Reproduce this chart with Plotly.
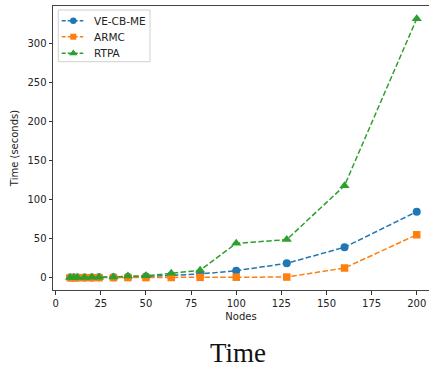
import plotly.graph_objects as go

nodes = [8, 10, 12, 16, 20, 24, 32, 40, 50, 64, 80, 100, 128, 160, 200]
ve_cb_me = [0.1, 0.1, 0.2, 0.2, 0.3, 0.4, 0.6, 0.9, 1.5, 2.8, 4.7, 9, 18.4, 39, 84.6]
armc = [0.0, 0.0, 0.0, 0.0, 0.0, 0.0, 0.0, 0.1, 0.1, 0.2, 0.4, 0.6, 0.8, 12.4, 55]
rtpa = [0.2, 0.2, 0.3, 0.3, 0.4, 0.5, 0.8, 2.0, 2.5, 5.6, 9.5, 44, 48.8, 118, 332]

series = [("VE-CB-ME", ve_cb_me, "#1f77b4", "circle", 8),
          ("ARMC", armc, "#ff7f0e", "square", 7.5),
          ("RTPA", rtpa, "#2ca02c", "triangle-up", 9)]

DASH = "5.5px,2.4px"
fig = go.Figure()
for name, vals, col, sym, sz in series:
    fig.add_trace(go.Scatter(
        x=nodes, y=vals, name=name, mode="lines+markers", showlegend=False,
        line=dict(color=col, width=1.5, dash=DASH),
        marker=dict(color=col, symbol=sym, size=sz, line=dict(width=0)),
    ))

# Manual legend on an overlay axis measured in pixels of the plot area
PL, PR, PT, PB = 53, 429, 6, 290
row_y = [20.7, 36.7, 53.3]
for (name, vals, col, sym, sz), ry in zip(series, row_y):
    fig.add_trace(go.Scatter(
        x=[61.7, 73.3, 83.3], y=[ry, ry, ry], xaxis="x2", yaxis="y2",
        mode="lines", showlegend=False, hoverinfo="skip",
        line=dict(color=col, width=1.5, dash="4px,2px"),
    ))
    fig.add_trace(go.Scatter(
        x=[73.3], y=[ry], xaxis="x2", yaxis="y2", mode="markers",
        showlegend=False, hoverinfo="skip",
        marker=dict(color=col, symbol=sym, size=sz - 1.5, line=dict(width=0)),
    ))
    fig.add_annotation(text=name, xref="x2", yref="y2", x=91.7, y=ry,
                       xanchor="left", yanchor="middle", showarrow=False,
                       font=dict(family="DejaVu Sans", size=10.5, color="#222"))
fig.add_shape(type="rect", xref="x2", yref="y2", x0=58.3, x1=150, y0=10, y1=61.7,
              line=dict(color="#d0d0d0", width=1), fillcolor="rgba(255,255,255,0.8)",
              layer="below")

axis_common = dict(
    showgrid=False, zeroline=False, showline=True, linecolor="#444", linewidth=1,
    ticks="outside", ticklen=3.5, tickwidth=0.8, tickcolor="#333",
    tickfont=dict(family="DejaVu Sans", size=10, color="#222"),
)
fig.update_layout(
    width=429, height=369,
    margin=dict(l=PL, r=429 - PR, t=PT, b=369 - PB),
    paper_bgcolor="white", plot_bgcolor="white",
    xaxis=dict(range=[-1.5, 206.8], tickvals=[0, 25, 50, 75, 100, 125, 150, 175, 200],
               mirror=True, title=dict(text="Nodes", font=dict(family="DejaVu Sans", size=10, color="#222"), standoff=5),
               **axis_common),
    yaxis=dict(range=[-15.8, 348.3], tickvals=[0, 50, 100, 150, 200, 250, 300],
               title=dict(text="Time (seconds)", font=dict(family="DejaVu Sans", size=10, color="#222"), standoff=6),
               **axis_common),
    xaxis2=dict(overlaying="x", range=[PL, PR], visible=False, fixedrange=True),
    yaxis2=dict(overlaying="y", range=[PB, PT], visible=False, fixedrange=True),
    showlegend=False,
)
fig.add_annotation(text="Time", xref="paper", yref="paper", x=(237.5 - PL) / (PR - PL),
                   y=-(353 - PB) / (PB - PT),
                   xanchor="center", yanchor="middle", showarrow=False,
                   font=dict(family="Liberation Serif", size=27, color="#111"))
fig.write_html("out.html")
